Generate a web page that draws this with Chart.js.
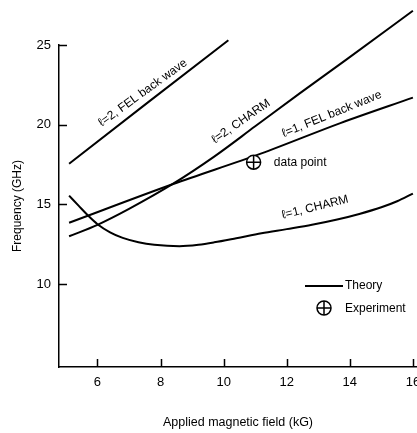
<!DOCTYPE html>
<html>
<head>
<meta charset="utf-8">
<script src="https://cdn.jsdelivr.net/npm/chart.js@4"></script>
<style>
  html, body { margin: 0; padding: 0; background: #fff; overflow: hidden; }
  #wrap { width: 417px; height: 433px; }
</style>
</head>
<body>
<div id="wrap"><canvas id="freqChart"></canvas></div>
<script>
const FONT = "'Liberation Sans', Arial, sans-serif";
const INK = '#000';

// Theory curves (field in kG, frequency in GHz)
const l2FelField = [5.1, 7.6, 10.15];
const l2FelFreq = [17.55, 21.4, 25.3];

const l2CharmField = [5.1, 6.0, 7.0, 8.4, 9.7, 11.0, 12.4, 13.9, 16.0];
const l2CharmFreq = [13.0, 13.72, 14.72, 16.3, 18.0, 19.9, 21.95, 24.1, 27.15];

const l1FelField = [5.1, 8.4, 11.2, 13.7, 16.0];
const l1FelFreq = [13.85, 16.28, 18.2, 20.1, 21.7];

const l1CharmField = [5.1, 5.4, 5.7, 6.0, 6.4, 6.8, 7.3, 7.8, 8.6, 9.2, 9.7, 10.4, 11.2, 12.0, 12.8, 13.6, 14.3, 15.0, 15.5, 16.0];
const l1CharmFreq = [15.55, 14.92, 14.3, 13.76, 13.25, 12.9, 12.63, 12.47, 12.38, 12.47, 12.62, 12.88, 13.19, 13.45, 13.72, 14.05, 14.4, 14.82, 15.2, 15.68];

// Experiment
const expField = [10.95];
const expFreq = [17.65];

const xTicks = [6, 8, 10, 12, 14, 16];
const yTicks = [10, 15, 20, 25];

const toPoints = (xs, ys) => xs.map((x, i) => ({ x: x, y: ys[i] }));

// labels written along the curves (data coordinates, angle in degrees)
const curveNotes = [
    { text: 'ℓ=2, FEL back wave', x: 7.44, y: 22.0, angle: -36, align: 'center' },
    { text: 'ℓ=2, CHARM', x: 10.55, y: 20.2, angle: -35, align: 'center' },
    { text: 'ℓ=1, FEL back wave', x: 13.43, y: 20.66, angle: -22, align: 'center' },
    { text: 'ℓ=1, CHARM', x: 12.9, y: 14.82, angle: -14, align: 'center' },
    { text: 'data point', x: 11.59, y: 17.64, angle: 0, align: 'left' }
];

const lineStyle = {
    showLine: true,
    borderColor: INK,
    borderWidth: 2,
    pointRadius: 0,
    fill: false,
    clip: false,
    order: 2
};

const insideTicks = {
    id: 'insideTicks',
    afterDraw(chart) {
        const { ctx, chartArea, scales } = chart;
        ctx.save();
        ctx.strokeStyle = INK;
        ctx.lineWidth = 1.5;
        ctx.beginPath();
        scales.x.ticks.forEach(t => {
            const px = Math.round(scales.x.getPixelForValue(t.value)) + 0.5;
            ctx.moveTo(px, chartArea.bottom);
            ctx.lineTo(px, chartArea.bottom - 8);
        });
        scales.y.ticks.forEach(t => {
            const py = Math.round(scales.y.getPixelForValue(t.value)) + 0.5;
            ctx.moveTo(chartArea.left, py);
            ctx.lineTo(chartArea.left + 8, py);
        });
        ctx.stroke();
        ctx.restore();
    }
};

const notesAndLegend = {
    id: 'notesAndLegend',
    afterDatasetsDraw(chart) {
        const { ctx, chartArea, scales } = chart;
        ctx.save();
        ctx.fillStyle = INK;
        ctx.strokeStyle = INK;
        ctx.font = '12px ' + FONT;
        ctx.textBaseline = 'middle';
        curveNotes.forEach(n => {
            const px = scales.x.getPixelForValue(n.x);
            const py = scales.y.getPixelForValue(n.y);
            ctx.save();
            ctx.translate(px, py);
            ctx.rotate(n.angle * Math.PI / 180);
            ctx.textAlign = n.align;
            ctx.fillText(n.text, 0, 0);
            ctx.restore();
        });

        // legend box
        const lx = chartArea.left + 246;
        const ly = chartArea.top + 241;
        ctx.lineWidth = 2;
        ctx.beginPath();
        ctx.moveTo(lx, ly);
        ctx.lineTo(lx + 38, ly);
        ctx.stroke();
        ctx.textAlign = 'left';
        ctx.fillText('Theory', lx + 40, ly);

        const cx = lx + 19, cy = ly + 22, r = 7;
        ctx.lineWidth = 1.5;
        ctx.beginPath();
        ctx.arc(cx, cy, r, 0, Math.PI * 2);
        ctx.stroke();
        ctx.beginPath();
        ctx.moveTo(cx - r, cy);
        ctx.lineTo(cx + r, cy);
        ctx.moveTo(cx, cy - r);
        ctx.lineTo(cx, cy + r);
        ctx.stroke();
        ctx.fillText('Experiment', lx + 40, cy + 1);
        ctx.restore();
    }
};

const freqCtx = document.getElementById('freqChart').getContext('2d');
const freqChart = new Chart(freqCtx, {
    type: 'scatter',
    data: {
        datasets: [
            {
                label: 'Experiment cross',
                data: toPoints(expField, expFreq),
                pointStyle: 'cross',
                pointRadius: 7,
                borderColor: INK,
                borderWidth: 1.5,
                order: 0
            },
            {
                label: 'Experiment',
                data: toPoints(expField, expFreq),
                pointStyle: 'circle',
                pointRadius: 7,
                backgroundColor: '#fff',
                borderColor: INK,
                borderWidth: 1.5,
                order: 1
            },
            Object.assign({ label: 'l=2, FEL back wave', data: toPoints(l2FelField, l2FelFreq) }, lineStyle),
            Object.assign({ label: 'l=2, CHARM', data: toPoints(l2CharmField, l2CharmFreq), cubicInterpolationMode: 'monotone' }, lineStyle),
            Object.assign({ label: 'l=1, FEL back wave', data: toPoints(l1FelField, l1FelFreq), cubicInterpolationMode: 'monotone' }, lineStyle),
            Object.assign({ label: 'l=1, CHARM', data: toPoints(l1CharmField, l1CharmFreq), cubicInterpolationMode: 'monotone' }, lineStyle)
        ]
    },
    options: {
        responsive: true,
        maintainAspectRatio: false,
        animation: false,
        layout: { autoPadding: false, padding: { top: 45, right: 0, bottom: 0, left: 0 } },
        plugins: {
            legend: { display: false },
            tooltip: { enabled: false }
        },
        scales: {
            x: {
                type: 'linear',
                min: 4.78,
                max: 16.13,
                afterBuildTicks: s => { s.ticks = xTicks.map(v => ({ value: v })); },
                afterFit: s => { s.height = 66; s.paddingLeft = 0; s.paddingRight = 0; },
                grid: { display: false, drawTicks: false },
                border: { color: INK, width: 1.5 },
                ticks: { color: INK, font: { family: FONT, size: 13 }, padding: 8, maxRotation: 0 },
                title: {
                    display: true,
                    text: 'Applied magnetic field (kG)',
                    color: INK,
                    font: { family: FONT, size: 12.5 },
                    padding: { top: 0, bottom: 3 }
                }
            },
            y: {
                type: 'linear',
                min: 4.8,
                max: 25,
                afterBuildTicks: s => { s.ticks = yTicks.map(v => ({ value: v })); },
                afterFit: s => { s.width = 59; },
                grid: { display: false, drawTicks: false },
                border: { color: INK, width: 1.5 },
                ticks: { color: INK, font: { family: FONT, size: 13 }, padding: 8 },
                title: {
                    display: true,
                    text: 'Frequency (GHz)',
                    color: INK,
                    font: { family: FONT, size: 12 },
                    padding: { top: 10, bottom: 0 }
                }
            }
        }
    },
    plugins: [insideTicks, notesAndLegend]
});
</script>
</body>
</html>
